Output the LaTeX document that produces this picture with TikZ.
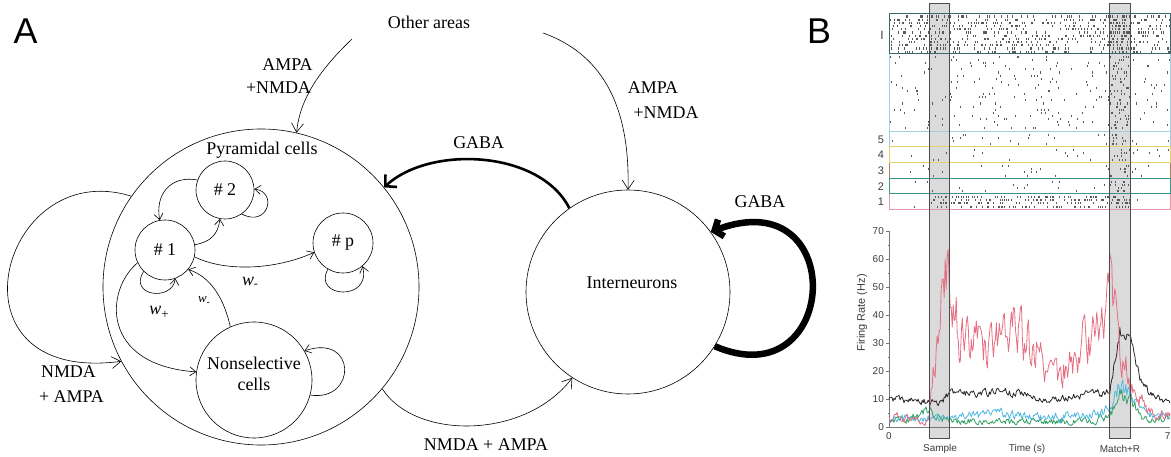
\documentclass[tikz,border=0pt]{standalone}
\usepackage{fontspec}
\setmainfont{Liberation Serif}
\setsansfont{Liberation Sans}
\usetikzlibrary{arrows.meta}
\definecolor{redc}{RGB}{230,110,130}
\definecolor{cyanc}{RGB}{80,185,225}
\definecolor{greenc}{RGB}{50,160,100}
\definecolor{bandI}{RGB}{60,105,110}
\definecolor{bandC}{RGB}{160,210,230}
\definecolor{bandV}{RGB}{165,205,225}
\definecolor{bandIV}{RGB}{230,210,110}
\definecolor{bandIII}{RGB}{170,130,95}
\definecolor{bandII}{RGB}{60,150,135}
\definecolor{bandOne}{RGB}{235,150,170}
\definecolor{axisg}{RGB}{120,120,120}
\definecolor{txtg}{RGB}{60,60,60}

\def\redk{{4,3,4,2,3,38,58,30,30,32,30,32,34,33,30,26,20,18,22,30,32,34,52,30,15,10,6,4,4,4}}
\def\blkk{{10,10,9.5,9,9,8,12,12,12,12,12,13,12,12,11,10,10,10,11,11,12,12,13,34,34,17,12,10,9,9}}
\def\cyak{{3,3,3,3,3,3,3,4,4,4,5,5,4,4,4,4,4,3.5,4,4,4,5,6,16,12,6,4,4,4,4}}
\def\grek{{3,3,3,4,6,3,2,2,2,2,2,2,2,2,2,2,2,2,2,2,2,3,4,12,10,4,3,3,3,3}}

\newcommand\cvBuild[4]{%
  \gdef#4{}\gdef\cvNoise{0}%
  \foreach \cvS in {0,...,280}{%
    \pgfmathtruncatemacro\cvKi{\cvS/10}%
    \pgfmathtruncatemacro\cvKj{\cvKi+1}%
    \pgfmathsetmacro\cvFr{\cvS/10-\cvKi}%
    \pgfmathsetmacro\cvVa{#1[\cvKi]}%
    \pgfmathsetmacro\cvVb{#1[\cvKj]}%
    \pgfmathsetmacro\cvBase{\cvVa+(\cvVb-\cvVa)*\cvFr}%
    \pgfmathsetmacro\cvN{0.45*(\cvNoise)+(#2*\cvBase+#3)*rand}%
    \xdef\cvNoise{\cvN}%
    \pgfmathsetmacro\cvY{427-2.8*max(0.3,\cvBase+\cvN)}%
    \pgfmathsetmacro\cvX{889+\cvS*1.003571}%
    \ifnum\cvS=0 \xdef#4{(\cvX,\cvY)}\else\xdef#4{#4 -- (\cvX,\cvY)}\fi
  }}

\newcommand\cvRaster[6]{%
  \foreach \cvR in {1,...,#2}{%
    \foreach \cvK in {1,...,#4}{%
      \pgfmathsetmacro\cvTx{#5+#6*rnd}%
      \pgfmathsetmacro\cvTy{#1+(\cvR-1)*#3}%
      \draw[rtick] (\cvTx,\cvTy) -- ++(0,2.1);
    }}}

\begin{document}
\begin{tikzpicture}[x=1bp,y=-1bp,
  cell/.style={circle,draw,line width=0.6bp,inner sep=0pt,font=\fontsize{18}{21}\selectfont},
  txt/.style={inner sep=0pt,font=\fontsize{18}{21}\selectfont},
  conn/.style={line width=0.6bp,-{Straight Barb[length=9bp,width=12bp]}},
  iconn/.style={line width=0.6bp,-{Straight Barb[length=6bp,width=9bp]}},
  gabaarrow/.style={line width=2.6bp,-{Straight Barb[length=8bp,width=17bp]}},
  gabaloop/.style={line width=6.5bp,-{Straight Barb[length=7bp,width=18bp]}},
  panel/.style={inner sep=0pt,font=\sffamily\fontsize{36}{36}\selectfont},
  bsmall/.style={inner sep=0pt,font=\sffamily\fontsize{10}{10}\selectfont,text=txtg},
  rtick/.style={line width=0.6bp,black!65},
  bandbox/.style={line width=1bp},
  colbox/.style={draw=gray!60!black,line width=0.6bp},
  curve/.style={line width=0.8bp,line join=round},
]
\useasboundingbox (0,0) rectangle (1171,457);
\fill[white] (0,0) rectangle (1171,457);

% ---------------- Panel A ----------------
\node[panel] (labA) at (25.5,31.5) {A};
\node[panel] (labB) at (819,31.5) {B};

\node[cell,minimum size=316bp] (pyr) at (261,287) {};
\node[txt] (pyrlab) at (262,150) {Pyramidal cells};
\node[cell,minimum size=58bp] (n2) at (225,190) {\# 2};
\node[cell,minimum size=60bp] (n1) at (165,250) {\# 1};
\node[cell,minimum size=60bp] (np) at (343,243) {\# p};
\node[cell,minimum size=116bp] (ns) at (254,380) {};
\node[txt,align=center] (nslab) at (254,374) {Nonselective\\cells};
\node[cell,minimum size=204bp] (inter) at (628,292) {};
\node[txt] (interlab) at (632,283) {Interneurons};

\node[txt] (oa) at (429,22) {Other areas};
\coordinate (oa1) at (352,39);
\coordinate (oa2) at (543,33);

\node[txt] (lA1) at (287.5,65) {AMPA};
\node[txt] (lA2) at (278.5,88) {+NMDA};
\node[txt] (rA1) at (653,88) {AMPA};
\node[txt] (rA2) at (666,113) {+NMDA};
\node[txt] (g1) at (478.7,143) {GABA};
\node[txt] (g2) at (760,202) {GABA};
\node[txt] (nmb) at (486,445) {NMDA + AMPA};
\node[txt] (nml1) at (68.5,372) {NMDA};
\node[txt] (nml2) at (71.5,397) {+ AMPA};

\node[txt] (wm1) at (250,282) {\itshape w\raisebox{-2bp}{\upshape\fontsize{12}{12}\selectfont -}};
\node[txt] (wp) at (159,312) {\itshape w\raisebox{-4bp}{\upshape\fontsize{13}{13}\selectfont +}};
\node[txt,font=\fontsize{13}{14}\selectfont] (wm2) at (204,301) {\itshape w\raisebox{-3bp}{\upshape\fontsize{10}{10}\selectfont -}};

% outer connectors
\draw[conn] (oa1) .. controls (325,65) and (300,95) .. (pyr.77);
\draw[conn] (oa2) .. controls (605,55) and (630,110) .. (inter.90);
\draw[gabaarrow] (inter.125) .. controls (540,150) and (430,145) .. (pyr.39);
\draw[conn] (pyr.-40) .. controls (415,440) and (525,440) .. (inter.237);
\draw[gabaloop] (inter.-32) .. controls (840,400) and (850,180) .. (inter.36);
\draw[conn] (pyr.145) .. controls (0,155) and (-60,385) .. (pyr.208);

% inner connectors
\draw[iconn] (n2.160) .. controls (170,175) and (155,195) .. (n1.100);
\draw[iconn] (n1.10) .. controls (210,242) and (218,235) .. (n2.-100);
\draw[iconn] (n2.-55) .. controls (268,228) and (278,192) .. (n2.2);
\draw[iconn] (n1.-13) .. controls (225,272) and (275,270) .. (np.198);
\draw[iconn] (np.240) .. controls (312,298) and (372,302) .. (np.-50);
\draw[iconn] (n1.225) .. controls (128,296) and (172,302) .. (n1.-70);
\draw[iconn] (ns.114) .. controls (222,290) and (205,275) .. (n1.-40);
\draw[iconn] (n1.205) .. controls (105,290) and (100,365) .. (ns.172);
\draw[iconn] (ns.-15) .. controls (357,402) and (357,333) .. (ns.30);

% ---------------- Panel B ----------------
\pgfmathsetseed{7}
\fill[gray!28] (929,3) rectangle (949,438);
\fill[gray!28] (1109,3) rectangle (1130,438);

% raster ticks
\cvRaster{15.5}{12}{3.2}{55}{889}{281}
\cvRaster{15.5}{12}{3.2}{6}{1110}{20}
\cvRaster{56}{24}{3.1}{9}{889}{281}
\cvRaster{56}{24}{3.1}{3}{1108}{22}
\cvRaster{134}{4}{3.1}{6}{889}{281}
\cvRaster{134}{4}{3.1}{3}{1108}{22}
\cvRaster{149}{4}{3.2}{6}{889}{281}
\cvRaster{149}{4}{3.2}{3}{1108}{22}
\cvRaster{165}{4}{3.2}{6}{889}{281}
\cvRaster{165}{4}{3.2}{3}{1108}{22}
\cvRaster{181}{4}{3.0}{5}{889}{281}
\cvRaster{181}{4}{3.0}{3}{1108}{22}
\cvRaster{196}{4}{3.2}{55}{930}{200}
\cvRaster{196}{4}{3.2}{2}{889}{281}

% raster bands
\draw[bandbox,bandC] (889,54) rectangle (1170,132);
\draw[bandbox,bandV] (889,132) rectangle (1170,147);
\draw[bandbox,bandIII] (889,163) rectangle (1170,179);
\draw[bandbox,bandIV] (889,147) rectangle (1170,163);
\draw[bandbox,bandOne] (889,194) rectangle (1170,210);
\draw[bandbox,bandII] (889,179) rectangle (1170,194);
\draw[bandbox,bandI] (889,14) rectangle (1170,54);

\node[bsmall,font=\sffamily\fontsize{12}{12}\selectfont] (bI) at (882,35) {I};
\node[bsmall,font=\sffamily\fontsize{11}{11}\selectfont] (b5) at (881,140) {5};
\node[bsmall,font=\sffamily\fontsize{11}{11}\selectfont] (b4) at (881,155) {4};
\node[bsmall,font=\sffamily\fontsize{11}{11}\selectfont] (b3) at (881,171) {3};
\node[bsmall,font=\sffamily\fontsize{11}{11}\selectfont] (b2) at (881,187) {2};
\node[bsmall,font=\sffamily\fontsize{11}{11}\selectfont] (b1) at (881,202) {1};

% rate axes
\draw[axisg,line width=0.6bp] (889,231) -- (889,427) -- (1170,427);
\foreach \v in {0,10,...,70}{
  \draw[axisg,line width=0.6bp] (886,{427-2.8*\v}) -- (889,{427-2.8*\v});
  \node[bsmall,anchor=east] at (884,{427-2.8*\v}) {\v};
}
\foreach \v in {5,15,...,65}{
  \draw[axisg,line width=0.5bp] (887.5,{427-2.8*\v}) -- (889,{427-2.8*\v});
}
\node[bsmall,rotate=90,font=\sffamily\fontsize{11}{11}\selectfont] (ylab) at (862,313) {Firing Rate (Hz)};
\node[bsmall] (t0) at (889,436) {0};
\node[bsmall,anchor=east] (t7) at (1170.5,436) {7};
\node[bsmall] (xs) at (940,449) {Sample};
\node[bsmall] (xt) at (1027,449) {Time (s)};
\node[bsmall] (xm) at (1120,449) {Match+R};

\cvBuild{\grek}{0.15}{0.8}{\greenpts}
\cvBuild{\cyak}{0.15}{0.8}{\cyanpts}
\cvBuild{\blkk}{0.05}{0.6}{\blackpts}
\cvBuild{\redk}{0.22}{0.8}{\redpts}
\draw[curve,greenc] \greenpts;
\draw[curve,cyanc] \cyanpts;
\draw[curve,black!85] \blackpts;
\draw[curve,redc] \redpts;

\draw[colbox] (929,3) rectangle (949,438);
\draw[colbox] (1109,3) rectangle (1130,438);
\end{tikzpicture}
\end{document}
